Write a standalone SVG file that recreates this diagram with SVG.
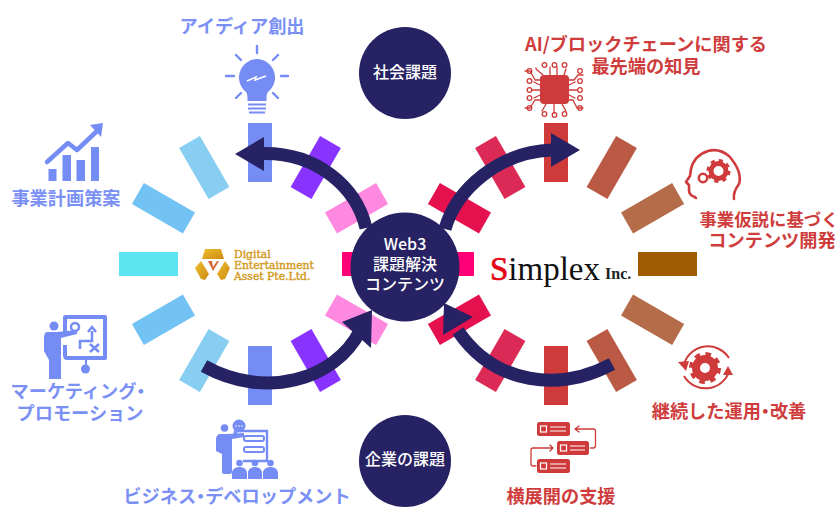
<svg xmlns="http://www.w3.org/2000/svg" width="840" height="507" viewBox="0 0 840 507">
<defs>
<linearGradient id="gold" x1="0" y1="0" x2="1" y2="1"><stop offset="0" stop-color="#F0BE2E"/><stop offset="1" stop-color="#CC8A14"/></linearGradient>
</defs>
<style>
text{font-family:"Noto Sans CJK JP","Noto Sans",sans-serif;font-weight:700;text-anchor:middle}
.b{fill:#7B90F5;font-size:18.2px}
.r{fill:#CF3C3C;font-size:18.2px}
.w{fill:#fff;font-size:16px;font-weight:500}
.d{font-feature-settings:"palt"}
.c{fill:#272263}
.ib{fill:#758CF5}
.ibs{fill:none;stroke:#758CF5;stroke-width:2.400;stroke-linecap:round;stroke-linejoin:round}
.ir{fill:#CF3A3A}
.irs{fill:none;stroke:#CF3A3A;stroke-width:1.300;stroke-linecap:round;stroke-linejoin:round}
.ar{fill:none;stroke:#272263;stroke-width:13}
.l{font-family:"DejaVu Serif",serif;font-size:10.800px;font-weight:400;fill:#D39A1E;stroke:#D39A1E;stroke-width:.4;text-anchor:start}
</style>
<rect width="840" height="507" fill="#fff"/>
<g id="wheel-left">
<rect x="248" y="123" width="24" height="59" fill="#758CF5"/>
<rect x="248" y="123" width="24" height="59" fill="#8833FF" transform="rotate(30 260 264)"/>
<rect x="248" y="123" width="24" height="59" fill="#FF88E0" transform="rotate(60 260 264)"/>
<rect x="248" y="123" width="24" height="59" fill="#FF0077" transform="rotate(90 260 264)"/>
<rect x="248" y="123" width="24" height="59" fill="#FF88E0" transform="rotate(120 260 264)"/>
<rect x="248" y="123" width="24" height="59" fill="#8833FF" transform="rotate(150 260 264)"/>
<rect x="248" y="123" width="24" height="59" fill="#758CF5" transform="rotate(180 260 264)"/>
<rect x="248" y="123" width="24" height="59" fill="#87CEF2" transform="rotate(210 260 264)"/>
<rect x="248" y="123" width="24" height="59" fill="#72C2F3" transform="rotate(240 260 264)"/>
<rect x="248" y="123" width="24" height="59" fill="#5CE5F0" transform="rotate(270 260 264)"/>
<rect x="248" y="123" width="24" height="59" fill="#72C2F3" transform="rotate(300 260 264)"/>
<rect x="248" y="123" width="24" height="59" fill="#87CEF2" transform="rotate(330 260 264)"/>
</g>
<g id="wheel-right">
<rect x="544" y="123" width="24" height="59" fill="#CF3A3A"/>
<rect x="544" y="123" width="24" height="59" fill="#BA5A44" transform="rotate(30 556 264)"/>
<rect x="544" y="123" width="24" height="59" fill="#B56C48" transform="rotate(60 556 264)"/>
<rect x="544" y="123" width="24" height="59" fill="#A05A00" transform="rotate(90 556 264)"/>
<rect x="544" y="123" width="24" height="59" fill="#B56C48" transform="rotate(120 556 264)"/>
<rect x="544" y="123" width="24" height="59" fill="#BA5A44" transform="rotate(150 556 264)"/>
<rect x="544" y="123" width="24" height="59" fill="#CF3A3A" transform="rotate(180 556 264)"/>
<rect x="544" y="123" width="24" height="59" fill="#DB2A55" transform="rotate(210 556 264)"/>
<rect x="544" y="123" width="24" height="59" fill="#E5114F" transform="rotate(240 556 264)"/>
<rect x="544" y="123" width="24" height="59" fill="#FF0077" transform="rotate(270 556 264)"/>
<rect x="544" y="123" width="24" height="59" fill="#E5114F" transform="rotate(300 556 264)"/>
<rect x="544" y="123" width="24" height="59" fill="#DB2A55" transform="rotate(330 556 264)"/>
</g>
<g id="node-social"><circle class="c" cx="405" cy="73" r="46"/><text class="w" x="405" y="78">社会課題</text></g>
<g id="node-corporate"><circle class="c" cx="405" cy="461" r="46"/><text class="w" x="405" y="465">企業の課題</text></g>
<g id="node-web3"><circle class="c" cx="405" cy="267" r="54.500"/>
<text class="w" x="405" y="250">Web3</text><text class="w" x="405" y="270">課題解決</text><text class="w" x="405" y="290">コンテンツ</text></g>
<g id="connectors">
<path class="ar" d="M264 153.500C315 153 356 185 366 228"/>
<path class="c" d="M235 154L264 137V171Z"/>
<path class="ar" d="M445 229C456 190 498 152 552 150"/>
<path class="c" d="M580 150L551 133V167Z"/>
<path class="ar" d="M204 366C265 400 335 380 360 331"/>
<path class="c" d="M372 310L342 322L371 348Z"/>
<path class="ar" d="M612 364C560 392 495 385 458 331"/>
<path class="c" d="M444 303L473 317L443 335Z"/>
</g>
<g id="node-idea">
<text class="b" x="242" y="33">アイディア創出</text>
<path class="ib" d="M257 59a18.500 18.500 0 0 1 11 33c-1.500 1.500-1.500 5-1.500 9h-19c0-4 0-7.500-1.500-9a18.500 18.500 0 0 1 11-33z"/>
<path class="ib" d="M248 103.500h18v2h-18zM248 107.500h18v2h-18zM249 111.500h16v2h-16z"/>
<path d="M247 81l9-4-1 3 11-4" fill="none" stroke="#fff" stroke-width="1.500"/>
<path class="ibs" d="M257 46v7M236 55l5 5M278 55l-5 5M226 76h8M281 76h7M236 98l5-5M278 98l-5-5"/>
</g>
<g id="node-plan">
<text class="b" x="66" y="205">事業計画策案</text>
<path class="ib" d="M48.500 169h8v12h-8zM62.500 155h8.500v26h-8.500zM76.500 160h8.500v21h-8.500zM91 147h8v34h-8z"/>
<path d="M47 162L68 143L77 150L96 132" fill="none" stroke="#758CF5" stroke-width="4.500" stroke-linecap="round" stroke-linejoin="round"/>
<path class="ib" d="M103 123L90 125L101 137Z"/>
</g>
<g id="node-marketing">
<text class="b" x="78" y="398">マーケティング<tspan class="d">・</tspan></text>
<text class="b" x="80" y="420">プロモーション</text>
<circle class="ib" cx="54" cy="326" r="4.500"/>
<path class="ib" d="M47 332h10l20-2v4l-16 4v41h-12v-19l-5-9v-13c0-3 1-6 3-6z"/>
<path d="M65 332v-15h40v41h-38c-2 0-2-1-2-3v-10" fill="none" stroke="#758CF5" stroke-width="4" stroke-linejoin="round"/>
<circle cx="75" cy="327" r="4" fill="none" stroke="#758CF5" stroke-width="2.500"/>
<path class="ib" d="M85 359h2v8h-2z"/>
<circle class="ib" cx="85.500" cy="369" r="4.500"/>
<path d="M80 349v-8h12v-10M88 332l4-5 4 5M90 344l9 8M99 344l-9 8" fill="none" stroke="#758CF5" stroke-width="2.500"/>
</g>
<g id="node-bizdev">
<text class="b" x="237" y="503">ビジネス<tspan class="d">・</tspan>デベロップメント</text>
<circle class="ib" cx="224.500" cy="428" r="3.800"/>
<path class="ib" d="M220 434h7l17-1v4l-12 2v33c0 1-1 2-2 2h-6c-1 0-2-1-2-2v-18l-6-3v-12c0-3 2-5 4-5z"/>
<circle class="ib" cx="239" cy="426" r="6.500"/>
<path class="ib" d="M234 430l-1 6 5-3z"/>
<circle cx="236" cy="426" r=".8" fill="#fff"/><circle cx="239" cy="426" r=".8" fill="#fff"/><circle cx="242" cy="426" r=".8" fill="#fff"/>
<path d="M240 431h27v30h-24" fill="none" stroke="#758CF5" stroke-width="2.400"/>
<rect x="244" y="436" width="20" height="5" rx="2" fill="none" stroke="#758CF5" stroke-width="2"/>
<rect x="244" y="447" width="20" height="5" rx="2" fill="none" stroke="#758CF5" stroke-width="2"/>
<circle class="ib" cx="239.500" cy="463" r="3.300"/><circle class="ib" cx="255" cy="463" r="3.300"/><circle class="ib" cx="270.500" cy="463" r="3.300"/>
<path class="ib" d="M232 479v-6c0-4 4-6 7.500-6s7.500 2 7.500 6v6zM248 479v-6c0-4 3.500-6 7-6s7 2 7 6v6zM263 479v-6c0-4 4-6 7.500-6s7.500 2 7.500 6v6z"/>
</g>
<g id="node-chip">
<text class="r" x="646" y="51">AI/ブロックチェーンに関する</text>
<text class="r" x="646" y="73">最先端の知見</text>
<rect class="ir" x="540" y="75" width="29" height="29" rx="4"/>
<g class="irs">
<path d="M543 75L536 69V68M550 75V67M557 75V67M564 75L566 69M569 80h5l4-5h5M569 85l6-3M569 90h8M569 95l6 3M569 100h4l4 8h6M540 80h-5l-5-9h-5M540 85l-6-3M540 90h-8M540 95l-6 3M540 100h-5l-5 8h-5M546 104l-4 7M554 104V113M562 104l4 7"/>
<circle cx="544.500" cy="65" r="2.300"/><circle cx="554.500" cy="65" r="2.300"/><circle cx="564.500" cy="65" r="2.300"/>
<circle cx="529.500" cy="71" r="2.300"/><circle cx="529.500" cy="81" r="2.300"/><circle cx="529.500" cy="90" r="2.300"/><circle cx="529.500" cy="98" r="2.300"/><circle cx="529.500" cy="108" r="2.300"/>
<circle cx="580" cy="71" r="2.300"/><circle cx="580" cy="81" r="2.300"/><circle cx="580" cy="90" r="2.300"/><circle cx="580" cy="98" r="2.300"/><circle cx="580" cy="108" r="2.300"/>
<circle cx="544.500" cy="114" r="2.300"/><circle cx="554.500" cy="115" r="2.300"/><circle cx="564.500" cy="114" r="2.300"/>
</g>
</g>
<g id="node-hypothesis">
<text class="r" x="769" y="226" style="font-size:17.400px">事業仮説に基づく</text>
<text class="r" x="772" y="247">コンテンツ開発</text>
<path d="M732 198c-1-6 2-11 5-15c3-10-3-20-10-28c-6-5-14-7-21-5c-9 3-15 9-17 18l-1 7l-4 6l3 3v5c0 4 2 6 6 7c0 1 1 1 1 1" transform="translate(2 1)" fill="none" stroke="#CF3A3A" stroke-width="2.600" stroke-linecap="round" stroke-linejoin="round"/>
<circle cx="718.500" cy="171" r="7.500" fill="none" stroke="#CF3A3A" stroke-width="5"/>
<circle cx="718.500" cy="171" r="10.500" fill="none" stroke="#CF3A3A" stroke-width="3" stroke-dasharray="4.120 4.120"/>
<circle cx="703" cy="178" r="4.200" fill="none" stroke="#CF3A3A" stroke-width="2.500"/>
</g>
<g id="node-operation">
<text class="r" x="729" y="418">継続した運用<tspan class="d">・</tspan>改善</text>
<circle cx="705" cy="368" r="9" fill="none" stroke="#CF3A3A" stroke-width="8"/>
<circle cx="705" cy="368" r="14" fill="none" stroke="#CF3A3A" stroke-width="4" stroke-dasharray="5.500 5.500"/>
<path d="M684 364A25 25 0 0 1 729 358M729 372A25 25 0 0 1 684 376" fill="none" stroke="#CF3A3A" stroke-width="2"/>
<path class="ir" d="M678 362L689 361L686 371ZM728 366L733 375L723 375Z"/>
</g>
<g id="node-rollout">
<text class="r" x="561" y="503">横展開の支援</text>
<rect class="ir" x="537" y="422" width="33" height="14" rx="2.500"/>
<rect class="ir" x="557" y="441" width="32" height="14" rx="2.500"/>
<rect class="ir" x="537" y="459" width="33" height="14" rx="2.500"/>
<g fill="none" stroke="#fff" stroke-width="1.200">
<rect x="540.500" y="426" width="6" height="6"/><path d="M550 427h16M550 431h16"/>
<rect x="560.500" y="445" width="6" height="6"/><path d="M570 446h15M570 450h15"/>
<rect x="540.500" y="463" width="6" height="6"/><path d="M550 464h16M550 468h16"/>
</g>
<path class="irs" d="M575 429h19c1 0 1.500 1 1.500 2v14c0 2-1 3-2 3h-3M575 429l4-3M575 429l4 3"/>
<path class="irs" d="M536 466h-3c-1 0-2-1-2-2v-14c0-1 1-2 2-2h20M553 448l-3-3M553 448l-3 3"/>
</g>
<g id="logo-dea">
<path d="M205 249h16l3 10h-22z" fill="url(#gold)"/>
<path d="M201 261l8 13-4 6-4-1-6-11z" fill="url(#gold)"/>
<path d="M225 261l-8 13 4 6 4-1 5-11z" fill="url(#gold)"/>
<path d="M205 259h16l-8 15z" fill="#fff"/>
<path d="M208 261h4l1 6 4-6h2l-6 10z" fill="#D8663A"/>
<text class="l" x="234" y="258">Digital</text>
<text class="l" x="234" y="269">Entertainment</text>
<text class="l" x="234" y="280">Asset Pte.Ltd.</text>
</g>
<g id="logo-simplex">
<text x="490" y="280" style="font-family:'Liberation Serif',serif;font-size:33px;font-weight:400;text-anchor:start;fill:#111"><tspan fill="#E30613" stroke="#E30613" stroke-width=".7">S</tspan>implex</text>
<text x="605" y="279" style="font-family:'Liberation Serif',serif;font-size:16px;font-weight:700;text-anchor:start;fill:#222">Inc.</text>
</g>
</svg>
